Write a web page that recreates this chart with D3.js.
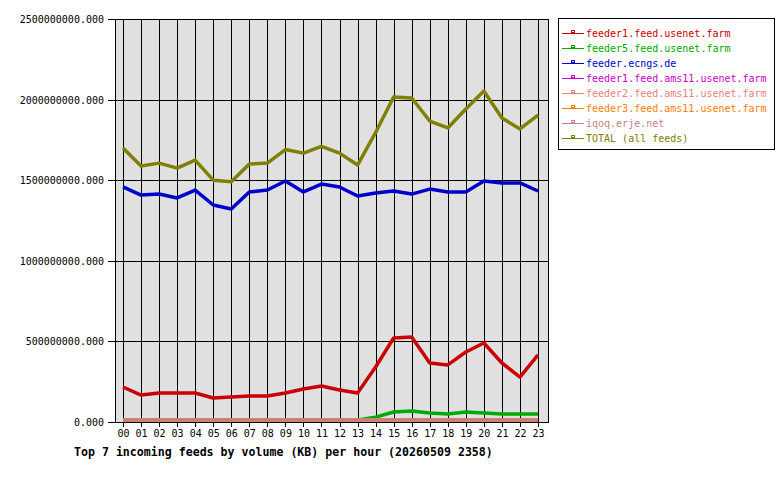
<!DOCTYPE html>
<html>
<head>
<meta charset="utf-8">
<script src="https://cdn.jsdelivr.net/npm/d3@7"></script>
<style>
  body { margin: 0; background: #fff; }
  text { font-family: "DejaVu Sans Mono", monospace; }
</style>
</head>
<body>
<div id="chart-area"></div>
<script>
const hours = ["00","01","02","03","04","05","06","07","08","09","10","11",
               "12","13","14","15","16","17","18","19","20","21","22","23"];

const feedNames = [
  "feeder1.feed.usenet.farm",
  "feeder5.feed.usenet.farm",
  "feeder.ecngs.de",
  "feeder1.feed.ams11.usenet.farm",
  "feeder2.feed.ams11.usenet.farm",
  "feeder3.feed.ams11.usenet.farm",
  "iqoq.erje.net",
  "TOTAL (all feeds)"
];
const feedColors = ["#cc0000", "#00aa00", "#0000cc", "#cc00cc", "#f08080", "#ff8000", "#c88080", "#808000"];

const feeder1Usenet = [217e6, 167e6, 180e6, 180e6, 180e6, 149e6, 155e6, 161e6, 161e6, 180e6, 205e6, 223e6,
                       199e6, 180e6, 341e6, 521e6, 527e6, 366e6, 354e6, 434e6, 490e6, 366e6, 279e6, 416e6];
const feeder5Usenet = [0, 0, 0, 0, 0, 0, 0, 0, 0, 0, 0, 0,
                       0, 0, 30e6, 62e6, 68e6, 56e6, 50e6, 62e6, 56e6, 50e6, 50e6, 50e6];
const feederEcngs = [1458e6, 1408e6, 1414e6, 1390e6, 1439e6, 1346e6, 1321e6, 1427e6, 1439e6, 1495e6, 1427e6, 1476e6,
                     1458e6, 1402e6, 1421e6, 1433e6, 1414e6, 1445e6, 1427e6, 1427e6, 1495e6, 1483e6, 1483e6, 1433e6];
const feeder1Ams = [0, 0, 0, 0, 0, 12e6, 0, 0, 12e6, 12e6, 0, 0,
                    0, 0, 0, 0, 0, 0, 12e6, 0, 12e6, 0, 0, 0];
const feeder2Ams = [2e6, 2e6, 2e6, 2e6, 2e6, 2e6, 2e6, 2e6, 2e6, 2e6, 2e6, 2e6,
                    2e6, 2e6, 2e6, 2e6, 2e6, 2e6, 2e6, 2e6, 2e6, 2e6, 2e6, 2e6];
const feeder3Ams = [0, 0, 0, 0, 0, 0, 0, 0, 0, 0, 0, 0,
                    0, 0, 0, 0, 0, 0, 0, 0, 0, 0, 0, 0];
const iqoqErje = [0, 0, 0, 0, 0, 0, 0, 0, 0, 0, 0, 0,
                  0, 0, 0, 0, 0, 0, 0, 0, 0, 0, 0, 0];
const totalFeeds = [1700e6, 1588e6, 1606e6, 1575e6, 1625e6, 1500e6, 1490e6, 1600e6, 1606e6, 1690e6, 1668e6, 1710e6,
                    1668e6, 1594e6, 1796e6, 2016e6, 2010e6, 1867e6, 1824e6, 1942e6, 2053e6, 1886e6, 1818e6, 1904e6];

const yTicks = [0, 500e6, 1000e6, 1500e6, 2000e6, 2500e6];

const series = [feeder1Usenet, feeder5Usenet, feederEcngs, feeder1Ams, feeder2Ams, feeder3Ams, iqoqErje, totalFeeds];

const svgWidth = 780;
const svgHeight = 480;
const plot = { left: 115, right: 548, top: 19, bottom: 422 };

const svg = d3.select("#chart-area")
              .append("svg")
              .attr("width", svgWidth)
              .attr("height", svgHeight);

const x = d3.scalePoint()
            .domain(hours)
            .range([123, 538]);

const y = d3.scaleLinear()
            .domain([0, 2500e6])
            .range([plot.bottom, plot.top]);

// plot background
svg.append("rect")
   .attr("x", plot.left)
   .attr("y", plot.top)
   .attr("width", plot.right - plot.left)
   .attr("height", plot.bottom - plot.top)
   .attr("fill", "#e0e0e0");

// vertical grid
svg.append("g")
   .selectAll("line")
   .data(hours)
   .enter()
   .append("line")
     .attr("x1", d => Math.round(x(d)) + 0.5)
     .attr("x2", d => Math.round(x(d)) + 0.5)
     .attr("y1", plot.top)
     .attr("y2", plot.bottom + 5)
     .attr("stroke", "#000")
     .attr("shape-rendering", "crispEdges");

// horizontal grid
svg.append("g")
   .selectAll("line")
   .data(yTicks)
   .enter()
   .append("line")
     .attr("x1", plot.left - 7)
     .attr("x2", plot.right)
     .attr("y1", d => Math.round(y(d)) + 0.5)
     .attr("y2", d => Math.round(y(d)) + 0.5)
     .attr("stroke", "#000")
     .attr("shape-rendering", "crispEdges");

// frame
svg.append("rect")
   .attr("x", plot.left + 0.5)
   .attr("y", plot.top + 0.5)
   .attr("width", plot.right - plot.left)
   .attr("height", plot.bottom - plot.top)
   .attr("fill", "none")
   .attr("stroke", "#000")
   .attr("stroke-width", 1.5)
   .attr("shape-rendering", "crispEdges");

// y labels
svg.append("g")
   .selectAll("text")
   .data(yTicks)
   .enter()
   .append("text")
     .attr("x", plot.left - 11)
     .attr("y", d => y(d) + 4)
     .attr("text-anchor", "end")
     .attr("font-size", "10px")
     .text(d => d3.format(".3f")(d));

// x labels
svg.append("g")
   .selectAll("text")
   .data(hours)
   .enter()
   .append("text")
     .attr("x", d => x(d) + 0.5)
     .attr("y", 437)
     .attr("text-anchor", "middle")
     .attr("font-size", "10px")
     .text(d => d);

// lines
const line = d3.line()
               .x((d, i) => x(hours[i]))
               .y(d => Math.min(y(d), plot.bottom - 2));

svg.append("g")
   .selectAll("path")
   .data(series)
   .enter()
   .append("path")
     .attr("d", d => line(d))
     .attr("fill", "none")
     .attr("stroke", (d, i) => feedColors[i])
     .attr("stroke-width", (d, i) => i === 3 ? 2 : 3.5)
     .attr("stroke-linejoin", "round");

// title
svg.append("text")
   .attr("x", 74)
   .attr("y", 456)
   .attr("font-size", "11.6px")
   .attr("font-weight", "bold")
   .text("Top 7 incoming feeds by volume (KB) per hour (20260509 2358)");

// legend
const legend = svg.append("g");

legend.append("rect")
      .attr("x", 558.5)
      .attr("y", 18.5)
      .attr("width", 216)
      .attr("height", 131)
      .attr("fill", "#fff")
      .attr("stroke", "#000")
      .attr("shape-rendering", "crispEdges");

const items = legend.selectAll("g.item")
                    .data(feedNames)
                    .enter()
                    .append("g")
                    .attr("class", "item")
                    .attr("transform", (d, i) => `translate(0, ${33 + i * 15})`);

items.append("line")
     .attr("x1", 562)
     .attr("x2", 584)
     .attr("y1", 0.5)
     .attr("y2", 0.5)
     .attr("stroke", (d, i) => feedColors[i])
     .attr("shape-rendering", "crispEdges");

items.append("rect")
     .attr("x", 571.5)
     .attr("y", -2.5)
     .attr("width", 3)
     .attr("height", 2)
     .attr("fill", "none")
     .attr("stroke", (d, i) => feedColors[i])
     .attr("shape-rendering", "crispEdges");

items.append("text")
     .attr("x", 586)
     .attr("y", 4)
     .attr("font-size", "10px")
     .attr("fill", (d, i) => feedColors[i])
     .text(d => d);
</script>
</body>
</html>
